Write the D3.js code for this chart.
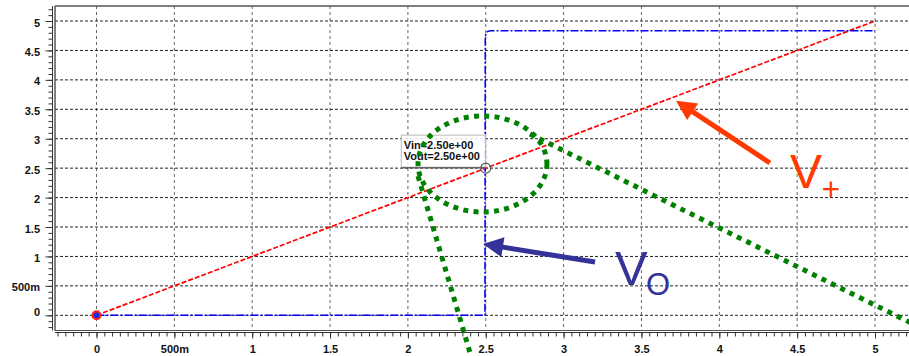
<!DOCTYPE html>
<html>
<head>
<meta charset="utf-8">
<script src="https://cdn.jsdelivr.net/npm/d3@7"></script>
<style>
  body { margin: 0; background: #fff; }
  svg { display: block; font-family: "Liberation Sans", Arial, sans-serif; }
</style>
</head>
<body>
<svg id="container" width="909" height="356"></svg>
<script>
// tick values and labels
var xTicks = [0, 0.5, 1, 1.5, 2, 2.5, 3, 3.5, 4, 4.5, 5];
var xTickLabels = ["0", "500m", "1", "1.5", "2", "2.5", "3", "3.5", "4", "4.5", "5"];
var yTicks = [0, 0.5, 1, 1.5, 2, 2.5, 3, 3.5, 4, 4.5, 5];
var yTickLabels = ["0", "500m", "1", "1.5", "2", "2.5", "3", "3.5", "4", "4.5", "5"];

// series: Vin (V+) and Vout
var vinX = [0, 5];
var vinY = [0, 5];
var voutX = [0, 2.495, 2.497, 2.499, 2.503, 2.51, 2.53, 5];
var voutY = [0, 0, 4.68, 4.76, 4.80, 4.82, 4.835, 4.835];

// cursor readout
var cursorX = 2.5, cursorY = 2.5;
var cursorLabels = ["Vin=2.50e+00", "Vout=2.50e+00"];

// hand drawn annotations, in data units
var ringCenter = [2.479, 2.571], ringRadius = [0.414, 0.816];
var greenLineA = [[2.784, 3.08], [5.3, -0.221]];
var greenLineB = [[2.065, 2.366], [2.405, -0.691]];
var redArrow = [[4.325, 2.587], [3.722, 3.646]];
var blueArrow = [[3.202, 0.906], [2.483, 1.211]];

const main = function(){
  var svg = d3.select('#container');
  var left = 55, right = 909, top = 6, bottom = 330.5;

  var x = d3.scaleLinear().domain([0, 5]).range([96.5, 875]);
  var y = d3.scaleLinear().domain([0, 5]).range([315.3, 21]);

  var xMin = x.invert(left), xMax = x.invert(right);
  var yMin = y.invert(bottom), yMax = y.invert(top);

  // grid
  svg.append("g").selectAll("line").data(xTicks).join("line")
    .attr("x1", d => x(d)).attr("x2", d => x(d))
    .attr("y1", top).attr("y2", bottom)
    .attr("stroke", "#666").attr("stroke-width", 1)
    .attr("stroke-dasharray", "3,3");
  svg.append("g").selectAll("line").data(yTicks).join("line")
    .attr("x1", left).attr("x2", right)
    .attr("y1", d => y(d)).attr("y2", d => y(d))
    .attr("stroke", "#222").attr("stroke-width", 1)
    .attr("stroke-dasharray", "3,2");

  // frame
  svg.append("line").attr("x1", left).attr("x2", right).attr("y1", top).attr("y2", top)
    .attr("stroke", "#555").attr("stroke-width", 1.5);
  svg.append("line").attr("x1", left).attr("x2", left).attr("y1", top).attr("y2", bottom)
    .attr("stroke", "#555").attr("stroke-width", 1.5);
  svg.append("line").attr("x1", left).attr("x2", right).attr("y1", bottom).attr("y2", bottom)
    .attr("stroke", "#555").attr("stroke-width", 1);

  // x axis
  var xAxisY = 332.5;
  var xMinor = d3.range(Math.ceil(xMin / 0.05) * 0.05, xMax, 0.05);
  var gx = svg.append("g").attr("transform", "translate(0," + xAxisY + ")");
  gx.append("g").call(d3.axisBottom(x).tickValues(xMinor).tickSize(4).tickFormat(""))
    .call(g => g.select(".domain").remove());
  gx.append("g").call(d3.axisBottom(x).tickValues(xTicks).tickSize(6).tickPadding(6.7)
      .tickFormat((d, i) => xTickLabels[i]))
    .call(g => g.select(".domain").remove())
    .selectAll("text").attr("font-size", 11).attr("font-weight", "bold")
    .attr("font-family", "'Liberation Sans', Arial, sans-serif").attr("fill", "#111");
  gx.append("line").attr("x1", left).attr("x2", right).attr("stroke", "#333");
  gx.selectAll(".tick line").attr("stroke", "#333");

  // y axis
  var yAxisX = 52.5;
  var yMinor = d3.range(Math.ceil(yMin / 0.1) * 0.1, yMax, 0.1);
  var gy = svg.append("g").attr("transform", "translate(" + yAxisX + ",0)");
  gy.append("g").call(d3.axisLeft(y).tickValues(yMinor).tickSize(4).tickFormat(""))
    .call(g => g.select(".domain").remove());
  gy.append("g").call(d3.axisLeft(y).tickValues(yTicks).tickSize(7).tickPadding(5.5)
      .tickFormat((d, i) => yTickLabels[i]))
    .call(g => g.select(".domain").remove())
    .selectAll("text").attr("font-size", 11).attr("font-weight", "bold")
    .attr("font-family", "'Liberation Sans', Arial, sans-serif").attr("fill", "#111")
    .attr("dy", d => d === 0 ? 0 : 5);
  gy.append("line").attr("y1", top).attr("y2", bottom).attr("stroke", "#333");
  gy.selectAll(".tick line").attr("stroke", "#333");

  // series
  var line = d3.line().x(d => x(d[0])).y(d => y(d[1]));
  svg.append("path").datum(d3.zip(vinX, vinY))
    .attr("d", line).attr("fill", "none")
    .attr("stroke", "#ff0000").attr("stroke-width", 1.7).attr("stroke-dasharray", "5,2");
  svg.append("path").datum(d3.zip(voutX, voutY))
    .attr("d", line).attr("fill", "none")
    .attr("stroke", "#0000ff").attr("stroke-width", 1.6).attr("stroke-dasharray", "8,2,2,2");

  // start marker
  svg.append("circle").attr("cx", x(vinX[0])).attr("cy", y(vinY[0])).attr("r", 5)
    .attr("fill", "#ff2020");
  svg.append("circle").attr("cx", x(vinX[0])).attr("cy", y(vinY[0])).attr("r", 2.8)
    .attr("fill", "#1030e0");

  // cursor
  var cx = x(cursorX), cy = y(cursorY);
  svg.append("rect").attr("x", cx - 84.5).attr("y", cy - 33).attr("width", 84.5).attr("height", 32)
    .attr("fill", "#fff").attr("fill-opacity", 0.85).attr("stroke", "#bbb");
  svg.append("line").attr("x1", cx - 84.5).attr("x2", cx).attr("y1", cy - 0.5).attr("y2", cy - 0.5)
    .attr("stroke", "#666").attr("stroke-width", 1.5);
  svg.append("g").selectAll("text").data(cursorLabels).join("text")
    .attr("x", cx - 82).attr("y", (d, i) => cy - 19.5 + i * 11.7)
    .attr("font-size", 11).attr("font-weight", "bold").attr("fill", "#111")
    .text(d => d);
  svg.append("circle").attr("cx", cx).attr("cy", cy).attr("r", 5)
    .attr("fill", "none").attr("stroke", "#555").attr("stroke-width", 1.2);

  // green annotation
  var green = "#008000";
  svg.append("ellipse")
    .attr("cx", x(ringCenter[0])).attr("cy", y(ringCenter[1]))
    .attr("rx", x(ringCenter[0] + ringRadius[0]) - x(ringCenter[0]))
    .attr("ry", y(ringCenter[1] - ringRadius[1]) - y(ringCenter[1]))
    .attr("fill", "none").attr("stroke", green).attr("stroke-width", 5)
    .attr("stroke-dasharray", "5,5.3");
  [greenLineA, greenLineB].forEach(function(seg){
    svg.append("path").datum(seg).attr("d", line).attr("fill", "none")
      .attr("stroke", green).attr("stroke-width", 5).attr("stroke-dasharray", "5,5.5");
  });

  // arrows
  var arrow = function(seg, color, width, headLen, headHalf){
    var x1 = x(seg[0][0]), y1 = y(seg[0][1]), x2 = x(seg[1][0]), y2 = y(seg[1][1]);
    var dx = x2 - x1, dy = y2 - y1, len = Math.sqrt(dx * dx + dy * dy);
    var ux = dx / len, uy = dy / len;
    var bx = x2 - ux * headLen, by = y2 - uy * headLen;
    svg.append("line").attr("x1", x1).attr("y1", y1).attr("x2", bx + ux * 2).attr("y2", by + uy * 2)
      .attr("stroke", color).attr("stroke-width", width);
    svg.append("path")
      .attr("d", "M" + x2 + "," + y2 +
        "L" + (bx - uy * headHalf) + "," + (by + ux * headHalf) +
        "L" + (bx + uy * headHalf) + "," + (by - ux * headHalf) + "Z")
      .attr("fill", color);
  };
  arrow(redArrow, "#ff3a00", 5, 20, 10);
  arrow(blueArrow, "#333399", 5, 20, 10);

  // labels
  var vp = svg.append("text").attr("fill", "#ff3a00");
  vp.append("tspan").attr("x", 790).attr("y", 188).attr("font-size", 48).text("V");
  vp.append("tspan").attr("x", 821.5).attr("y", 199.5).attr("font-size", 32).text("+");
  var vo = svg.append("text").attr("fill", "#333399");
  vo.append("tspan").attr("x", 615).attr("y", 285).attr("font-size", 49).text("V");
  vo.append("tspan").attr("x", 646).attr("y", 295).attr("font-size", 31).text("O");
}

main();
</script>
</body>
</html>
